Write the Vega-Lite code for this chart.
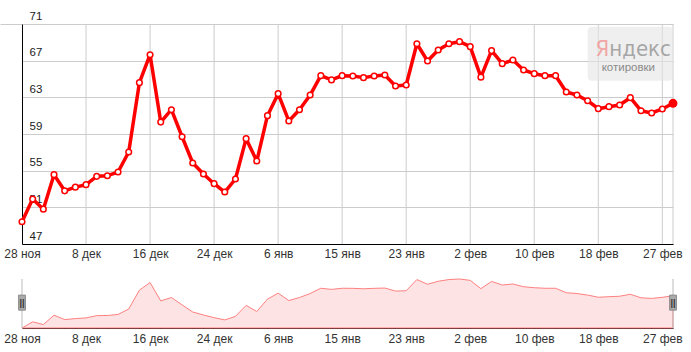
{
  "$schema": "https://vega.github.io/schema/vega-lite/v6.json",
  "width": 651,
  "height": 304,
  "autosize": {"type": "none"},
  "padding": {"left": 22, "top": 24, "right": 18, "bottom": 24},
  "config": {"view": {"stroke": null}, "font": "Liberation Sans"},
  "datasets": {
    "rates": [
      {"d": "28 ноя", "v": 49.43}, {"d": "1 дек", "v": 51.9}, {"d": "2 дек", "v": 50.8}, {"d": "3 дек", "v": 54.56},
      {"d": "4 дек", "v": 52.8}, {"d": "5 дек", "v": 53.2}, {"d": "8 дек", "v": 53.47}, {"d": "9 дек", "v": 54.38},
      {"d": "10 дек", "v": 54.45}, {"d": "11 дек", "v": 54.85}, {"d": "12 дек", "v": 57.04}, {"d": "15 дек", "v": 64.6},
      {"d": "16 дек", "v": 67.65}, {"d": "17 дек", "v": 60.3}, {"d": "18 дек", "v": 61.65}, {"d": "19 дек", "v": 58.7},
      {"d": "22 дек", "v": 55.84}, {"d": "23 дек", "v": 54.64}, {"d": "24 дек", "v": 53.58}, {"d": "25 дек", "v": 52.67},
      {"d": "26 дек", "v": 54.09}, {"d": "29 дек", "v": 58.49}, {"d": "30 дек", "v": 56.05}, {"d": "31 дек", "v": 61.0},
      {"d": "6 янв", "v": 63.4}, {"d": "8 янв", "v": 60.42}, {"d": "9 янв", "v": 61.65}, {"d": "10 янв", "v": 63.25},
      {"d": "13 янв", "v": 65.36}, {"d": "14 янв", "v": 64.9}, {"d": "15 янв", "v": 65.36}, {"d": "16 янв", "v": 65.33},
      {"d": "19 янв", "v": 65.15}, {"d": "20 янв", "v": 65.33}, {"d": "21 янв", "v": 65.44}, {"d": "22 янв", "v": 64.24},
      {"d": "23 янв", "v": 64.35}, {"d": "24 янв", "v": 68.85}, {"d": "27 янв", "v": 66.96}, {"d": "28 янв", "v": 68.16},
      {"d": "29 янв", "v": 68.85}, {"d": "30 янв", "v": 69.07}, {"d": "2 фев", "v": 68.53}, {"d": "3 фев", "v": 65.2},
      {"d": "4 фев", "v": 68.1}, {"d": "5 фев", "v": 66.67}, {"d": "6 фев", "v": 67.07}, {"d": "9 фев", "v": 65.98},
      {"d": "10 фев", "v": 65.58}, {"d": "11 фев", "v": 65.36}, {"d": "12 фев", "v": 65.36}, {"d": "13 фев", "v": 63.58},
      {"d": "16 фев", "v": 63.25}, {"d": "17 фев", "v": 62.63}, {"d": "18 фев", "v": 61.76}, {"d": "19 фев", "v": 61.98},
      {"d": "20 фев", "v": 62.16}, {"d": "24 фев", "v": 62.96}, {"d": "25 фев", "v": 61.54}, {"d": "26 фев", "v": 61.29},
      {"d": "27 фев", "v": 61.73}, {"d": "2 мар", "v": 62.35}
    ],
    "grid": [
      {"d": "8 дек"}, {"d": "16 дек"}, {"d": "24 дек"}, {"d": "6 янв"}, {"d": "15 янв"}, {"d": "23 янв"},
      {"d": "2 фев"}, {"d": "10 фев"}, {"d": "18 фев"}, {"d": "27 фев"}, {"d": "2 мар"}
    ],
    "edges": [{"d": "28 ноя"}, {"d": "2 мар"}],
    "badge": [{"d": "17 фев", "d2": "2 мар"}],
    "logo": [{"d": "24 фев"}]
  },
  "layer": [
    {
      "encoding": {
        "x": {
          "field": "d", "type": "ordinal",
          "scale": {"type": "point", "padding": 0, "domain": ["28 ноя","1 дек","2 дек","3 дек","4 дек","5 дек","8 дек","9 дек","10 дек","11 дек","12 дек","15 дек","16 дек","17 дек","18 дек","19 дек","22 дек","23 дек","24 дек","25 дек","26 дек","29 дек","30 дек","31 дек","6 янв","8 янв","9 янв","10 янв","13 янв","14 янв","15 янв","16 янв","19 янв","20 янв","21 янв","22 янв","23 янв","24 янв","27 янв","28 янв","29 янв","30 янв","2 фев","3 фев","4 фев","5 фев","6 фев","9 фев","10 фев","11 фев","12 фев","13 фев","16 фев","17 фев","18 фев","19 фев","20 фев","24 фев","25 фев","26 фев","27 фев","2 мар"]},
          "axis": {
            "orient": "bottom", "offset": -84, "title": null,
            "values": ["28 ноя","8 дек","16 дек","24 дек","6 янв","15 янв","23 янв","2 фев","10 фев","18 фев","27 фев"],
            "ticks": false, "grid": false, "domainColor": "#000", "domainWidth": 1,
            "labelAngle": 0, "labelPadding": 4, "labelFontSize": 12, "labelColor": "#333", "labelOverlap": false
          }
        }
      },
      "layer": [
        {
          "data": {"name": "grid"},
          "mark": {"type": "rule", "color": "#cccccc", "strokeWidth": 1},
          "encoding": {
            "y": {
              "datum": 47, "type": "quantitative", "title": null,
              "scale": {"domain": [47, 71], "range": [220, 0], "zero": false, "nice": false},
              "axis": {
                "orient": "left", "title": null, "values": [47, 51, 55, 59, 63, 67, 71],
                "grid": true, "gridColor": "#cccccc", "gridWidth": 1,
                "domainColor": "#000", "domainWidth": 1,
                "ticks": true, "tickSize": 22, "tickColor": "#cccccc",
                "tickOpacity": {"condition": {"test": "datum.value === 71", "value": 1}, "value": 0},
                "labelAlign": "left", "labelBaseline": "alphabetic", "labelPadding": -29, "labelOffset": -5,
                "labelFontSize": 11.5, "labelColor": "#222", "labelFlush": false
              }
            },
            "y2": {"datum": 71}
          }
        },
        {
          "data": {"name": "badge"},
          "mark": {"type": "rect", "fill": "#e4e4e4", "opacity": 0.6, "cornerRadius": 4},
          "encoding": {
            "x2": {"field": "d2"},
            "y": {"datum": 70.7, "type": "quantitative", "title": null}, "y2": {"datum": 64.8}
          }
        },
        {
          "data": {"name": "logo"},
          "mark": {"type": "text", "text": "Я", "align": "right", "baseline": "alphabetic", "dx": -21, "fontSize": 22, "font": "DejaVu Sans Condensed", "fill": "#f29a9a", "opacity": 0.85},
          "encoding": {"y": {"datum": 67.55, "type": "quantitative", "title": null}}
        },
        {
          "data": {"name": "logo"},
          "mark": {"type": "text", "text": "ндекс", "align": "left", "baseline": "alphabetic", "dx": -21, "fontSize": 22, "font": "DejaVu Sans Condensed", "fill": "#9a9a9a", "opacity": 0.85},
          "encoding": {"y": {"datum": 67.55, "type": "quantitative", "title": null}}
        },
        {
          "data": {"name": "logo"},
          "mark": {"type": "text", "text": "котировки", "align": "center", "baseline": "alphabetic", "dx": -2, "fontSize": 11.5, "fill": "#8a8a8a"},
          "encoding": {"y": {"datum": 65.85, "type": "quantitative", "title": null}}
        },
        {
          "data": {"name": "rates"},
          "mark": {"type": "line", "color": "#ff0000", "strokeWidth": 3.5, "strokeJoin": "round"},
          "encoding": {"y": {"field": "v", "type": "quantitative", "title": null}}
        },
        {
          "data": {"name": "rates"},
          "mark": {"type": "point", "shape": "circle", "filled": true, "stroke": "#ff0000", "strokeWidth": 1.5, "opacity": 1},
          "encoding": {
            "y": {"field": "v", "type": "quantitative", "title": null},
            "fill": {"condition": {"test": "datum.d === '2 мар'", "value": "#ff0000"}, "value": "#ffffff"},
            "size": {"condition": {"test": "datum.d === '2 мар'", "value": 55}, "value": 32}
          }
        }
      ]
    },
    {
      "encoding": {
        "x": {
          "field": "d", "type": "ordinal",
          "scale": {"type": "point", "padding": 0, "domain": ["28 ноя","1 дек","2 дек","3 дек","4 дек","5 дек","8 дек","9 дек","10 дек","11 дек","12 дек","15 дек","16 дек","17 дек","18 дек","19 дек","22 дек","23 дек","24 дек","25 дек","26 дек","29 дек","30 дек","31 дек","6 янв","8 янв","9 янв","10 янв","13 янв","14 янв","15 янв","16 янв","19 янв","20 янв","21 янв","22 янв","23 янв","24 янв","27 янв","28 янв","29 янв","30 янв","2 фев","3 фев","4 фев","5 фев","6 фев","9 фев","10 фев","11 фев","12 фев","13 фев","16 фев","17 фев","18 фев","19 фев","20 фев","24 фев","25 фев","26 фев","27 фев","2 мар"]},
          "axis": {
            "orient": "bottom", "offset": 0, "title": null,
            "values": ["28 ноя","8 дек","16 дек","24 дек","6 янв","15 янв","23 янв","2 фев","10 фев","18 фев","27 фев"],
            "ticks": false, "grid": false, "domainColor": "#000", "domainWidth": 1,
            "labelAngle": 0, "labelPadding": 5, "labelFontSize": 12, "labelColor": "#333", "labelOverlap": false
          }
        }
      },
      "layer": [
        {
          "data": {"name": "rates"},
          "mark": {"type": "area", "fill": "#fde3e3", "stroke": "#ff8080", "strokeWidth": 1},
          "encoding": {
            "y": {"field": "v", "type": "quantitative", "axis": null,
                  "scale": {"domain": [49.43, 69.07], "range": [304, 255], "zero": false, "nice": false}},
            "y2": {"datum": 49.43}
          }
        },
        {
          "data": {"name": "edges"},
          "mark": {"type": "rule", "color": "#bbbbbb", "strokeWidth": 1},
          "encoding": {"y": {"datum": 69.07, "type": "quantitative", "axis": null}, "y2": {"datum": 49.43}}
        },
        {
          "data": {"name": "edges"},
          "mark": {"type": "point", "shape": "M-0.45,-1H0.45V1H-0.45Z", "filled": true, "fill": "#aaaaaa", "stroke": "#888888", "strokeWidth": 1, "size": 225, "opacity": 1},
          "encoding": {"y": {"datum": 59.6, "type": "quantitative", "axis": null}}
        },
        {
          "data": {"name": "edges"},
          "mark": {"type": "text", "text": "||", "fontSize": 9, "fontWeight": "bold", "fill": "#333", "baseline": "middle", "align": "center"},
          "encoding": {"y": {"datum": 59.6, "type": "quantitative", "axis": null}}
        }
      ]
    }
  ],
  "resolve": {"scale": {"x": "independent", "y": "independent"}, "axis": {"x": "independent", "y": "independent"}}
}
